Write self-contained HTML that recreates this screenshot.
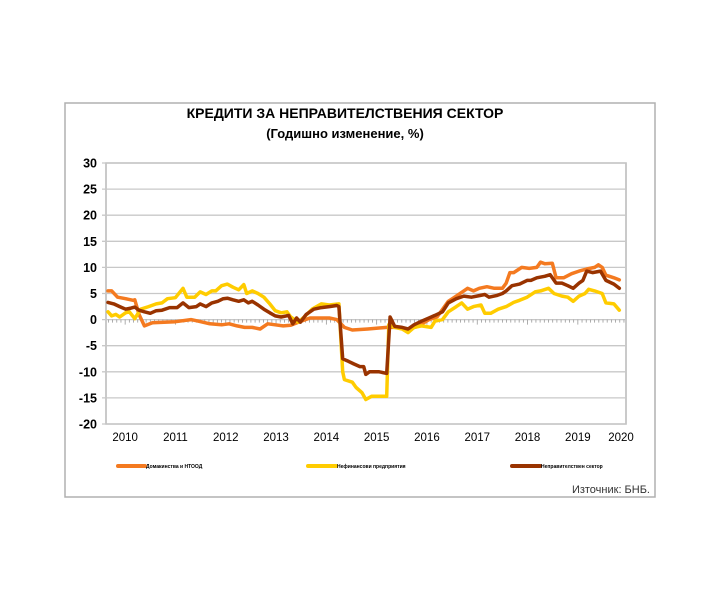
<!DOCTYPE html>
<html><head><meta charset="utf-8"><style>
body{margin:0;background:#fff;}
svg{display:block;font-family:"Liberation Sans",sans-serif;}
</style></head><body>
<svg width="710" height="599" viewBox="0 0 710 599">
<rect x="65" y="103" width="590" height="394" fill="#fff" stroke="#b0b0b0" stroke-width="1.5"/>
<text x="345" y="118" text-anchor="middle" font-size="14" font-weight="bold">КРЕДИТИ ЗА НЕПРАВИТЕЛСТВЕНИЯ СЕКТОР</text>
<text x="345" y="138" text-anchor="middle" font-size="13" font-weight="bold">(Годишно изменение, %)</text>
<g id="grid"></g><g id="axes"></g><g id="series"></g>
<g>
<line x1="118" y1="466" x2="145" y2="466" stroke="#f47a20" stroke-width="4" stroke-linecap="round"/>
<text x="146" y="468" font-size="5" font-weight="bold">Домакинства и НТООД</text>
<line x1="308" y1="466" x2="336" y2="466" stroke="#ffcc00" stroke-width="4" stroke-linecap="round"/>
<text x="337" y="468" font-size="5" font-weight="bold">Нефинансови предприятия</text>
<line x1="512" y1="466" x2="540" y2="466" stroke="#993300" stroke-width="4" stroke-linecap="round"/>
<text x="541" y="468" font-size="5" font-weight="bold">Неправителствен сектор</text>
</g>
<text x="650" y="493" text-anchor="end" font-size="11" fill="#333">Източник: БНБ.</text>
</svg>
<script>
const yTicks=[30,25,20,15,10,5,0,-5,-10,-15,-20];
const yearLabels=["2010","2011","2012","2013","2014","2015","2016","2017","2018","2019","2020"];
const hhMonths=[1.9,2.8,4.2,6.1,7.9,8.3,9.3,10.6,12.5,18,21.7,23.5,26.2,29,30.8,32.7,34.5,36.3,38.2,40,41.8,43.7,45.5,47.3,50.1,54.7,56.5,58.3,60.2,63.9,68.4,71.2,73,75.8,78.5,80.4,81.3,83.1,85,86.8,87.7,89.1,90.5,92.3,94.1,96,96.9,97.8,98.7,100.6,102.4,104.2,105.1,106.1,107.9,108.8,110.6,112.5,114.3,116.1,118,118.9,119.8,120.7,122.6,123.9];
const hhValues=[5.5,5.5,4.3,4,3.7,3.8,1,-1.2,-0.6,-0.4,0,-0.3,-0.8,-1,-0.8,-1.2,-1.5,-1.5,-1.8,-0.8,-1,-1.2,-1.1,-0.5,0.3,0.3,0,-1.5,-2,-1.8,-1.5,-1.5,-2,-1.3,0,0.5,1.5,3.5,4.5,5.5,6,5.5,6,6.3,6,6,7,9,9,10,9.8,10,11,10.7,10.8,8,8,8.8,9.3,9.7,10,10.5,10,8.5,8,7.6];
const nfcMonths=[1.9,2.8,3.8,4.7,6.1,7,8.3,9.7,11.6,13.4,14.8,16.1,18,19.8,20.7,22.6,23.9,25.3,26.7,27.6,29,30.4,31.7,33.1,34.3,35,36.3,37.7,39.1,40.5,41.8,43.2,44.6,45.5,47.3,48.7,50.6,52.8,54.7,57,57.9,58.3,60.2,61.1,62.5,63.4,64.8,68.4,68.9,70.3,72.1,73.5,74.9,76.7,79,79.9,81.7,83.1,85,86.3,87.7,89.1,90.9,91.8,93.2,95,96.9,98.7,100.1,101.9,103.8,105.1,107,108.3,110.2,111.6,112.9,114.3,115.7,116.6,118,119.8,120.7,122.6,123.9];
const nfcValues=[1.5,0.7,1,0.5,1.3,1.5,0.2,2,2.5,3,3.2,4,4.2,6,4.3,4.3,5.3,4.8,5.5,5.5,6.5,6.8,6.2,5.7,6.7,5,5.5,5,4.3,3,1.7,1.3,1.5,0.5,-0.5,0.5,2,3,2.8,3,-10,-11.5,-12,-13,-14,-15.3,-14.7,-14.7,-1,-1.5,-1.8,-2.5,-1.5,-1.2,-1.5,-0.3,0,1.5,2.5,3.2,2,2.5,2.8,1.2,1.2,2,2.5,3.3,3.7,4.3,5.3,5.5,6,5,4.5,4.3,3.5,4.5,5,5.8,5.5,5,3.2,3,1.8];
const totMonths=[1.9,3.3,4.7,6.1,7.4,8.3,9.3,10.6,12,13.4,14.8,16.6,18.4,19.8,21.2,23,23.9,25.3,26.7,28.1,29.4,30.4,31.7,33.1,34.3,35.4,36.3,37.7,39.1,40.5,41.8,43.2,45,46,46.9,47.8,49.2,51,52.8,54.7,56.5,57,57.9,59.3,60.6,62,62.9,63.4,64.3,66.6,68.4,69.2,70.3,72.1,73.5,74.9,76.7,78.5,79.9,81.7,83.1,85,86.8,88.6,90.5,91.8,92.8,94.6,96,96.9,98.3,100.1,101.9,102.8,104.2,106.1,107.4,108.8,110.2,111.6,112.9,114.3,115.2,116.1,117.5,119.4,120.7,122.6,123.9];
const totValues=[3.3,3,2.5,2,2.2,2.4,1.8,1.5,1.2,1.7,1.8,2.3,2.3,3.2,2.3,2.5,3,2.5,3.2,3.5,4,4.1,3.8,3.5,3.8,3.2,3.5,2.8,2,1.3,0.7,0.5,0.8,-0.8,0.3,-0.5,1,2,2.3,2.5,2.7,2.5,-7.5,-8,-8.5,-9,-9,-10.5,-10,-10,-10.3,0.5,-1.3,-1.5,-1.8,-1,-0.3,0.3,0.8,1.5,3.2,4,4.5,4.3,4.6,4.8,4.3,4.6,5,5.5,6.5,6.8,7.5,7.5,8,8.3,8.6,7,7,6.5,6,7,7.5,9.3,9,9.3,7.5,6.8,6];

const NS="http://www.w3.org/2000/svg";
const L=106,R=626,T=163,B=424;
const yS=v=>T+(30-v)/50*(B-T);
const xS=m=>100+m*50.3/12;
function mk(tag,attrs,parent){const e=document.createElementNS(NS,tag);for(const k in attrs)e.setAttribute(k,attrs[k]);parent.appendChild(e);return e;}
const grid=document.getElementById('grid'),axes=document.getElementById('axes'),ser=document.getElementById('series');
mk('rect',{x:L,y:T,width:R-L,height:B-T,fill:'none',stroke:'#b8b8b8','stroke-width':1.5},grid);
yTicks.forEach(v=>{
  const ln=mk('line',{x1:L-4,x2:R,y1:yS(v),y2:yS(v),stroke:'#c8c8c8','stroke-width':1.3},grid);
  
  
  const t=mk('text',{x:97,y:yS(v)+4.5,'text-anchor':'end','font-size':12.5,'font-weight':'bold'},axes);
  t.textContent=v;
  
  
});
for(let m=2;m<=125;m++){
  const tk=mk('line',{x1:xS(m),x2:xS(m),y1:yS(0),y2:yS(0)+(m%12==6?5:3),stroke:'#999','stroke-width':0.8},axes);
  
  
}
yearLabels.forEach((y,i)=>{
  const t=mk('text',{x:Math.min(xS(i*12+6),621),y:441,'text-anchor':'middle','font-size':11.5},axes);
  t.textContent=y;
  
  
});
function line(ms,vs,color,name){
  const d=ms.map((m,i)=>(i?'L':'M')+xS(m).toFixed(1)+','+yS(vs[i]).toFixed(1)).join('');
  const p=mk('path',{d:d,fill:'none',stroke:color,'stroke-width':3.5,'stroke-linejoin':'round','stroke-linecap':'round'},ser);
  
  
}
line(hhMonths,hhValues,'#f47a20','households-line');
line(nfcMonths,nfcValues,'#ffcc00','corporates-line');
line(totMonths,totValues,'#993300','total-line');
</script>
</body></html>
